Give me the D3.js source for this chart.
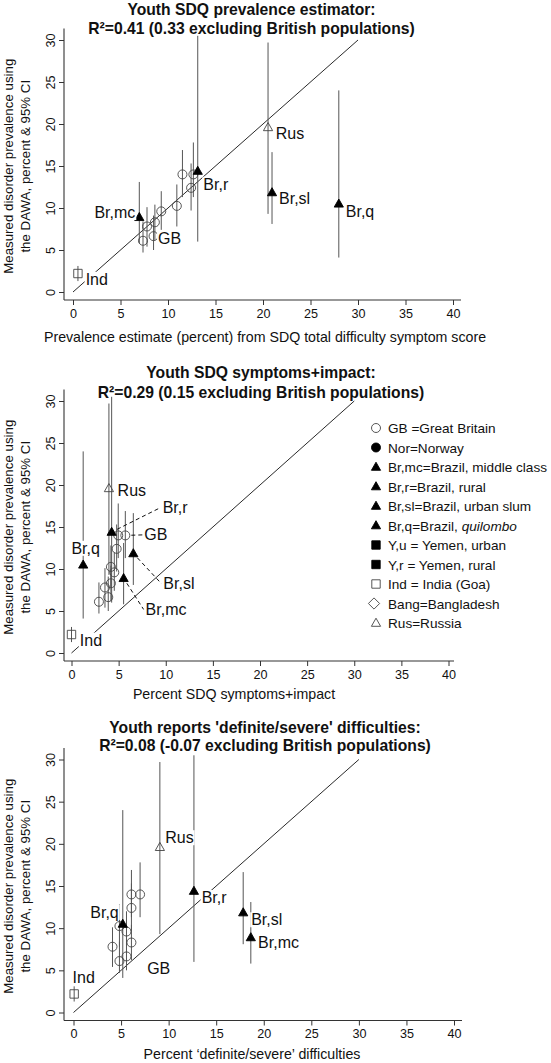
<!DOCTYPE html>
<html><head><meta charset="utf-8">
<script src="https://cdn.jsdelivr.net/npm/d3@7"></script>
<style>
body{margin:0;background:#fff}
svg{display:block}
text{font-family:"Liberation Sans",Arial,Helvetica,sans-serif;fill:#111}
</style>
</head><body>
<svg id="chart" width="551" height="1063"></svg>
<script>
// ---------------- DATA ----------------
const populations = ["GB","GB","GB","GB","GB","GB","GB","GB","GB","Br,mc","Br,r","Br,sl","Br,q","Ind","Rus"];
const dawaPrevalence = [6.1, 7.8, 6.65, 8.3, 9.6, 10.25, 14.0, 12.4, 14.0, 8.9, 14.4, 11.85, 10.5, 2.2, 19.6];
const dawaCILow      = [4.7, 5.4, 5.0, 6.2, 7.4, 7.8, 11.3, 9.7, 11.3, 5.8, 6.0, 8.1, 4.1, 1.3, 9.3];
const dawaCIHigh     = [8.4, 10.1, 9.1, 10.4, 12.0, 12.8, 16.9, 15.3, 17.8, 13.1, 30.5, 16.65, 24.0, 3.1, 29.7];
const sdqPrevalence     = [7.37, 7.79, 8.48, 8.62, 9.29, 10.93, 11.52, 12.43, 12.67, 6.98, 13.13, 20.95, 27.98, 0.52, 20.53];
const sdqSymptomsImpact = [2.91, 3.55, 3.9, 4.18, 4.54, 4.18, 5.71, 4.79, 4.96, 5.53, 4.26, 6.56, 1.24, 0.0, 3.97];
const definiteSevere    = [4.83, 4.1, 5.57, 6.09, 5.57, 4.83, 6.09, 6.09, 7.0, 18.64, 12.66, 17.84, 5.18, 0.07, 9.08];

const xTickValues = [0, 5, 10, 15, 20, 25, 30, 35, 40];
const yTickValues = [0, 5, 10, 15, 20, 25, 30];

const titles1 = ["Youth SDQ prevalence estimator:", "R\u00B2=0.41 (0.33 excluding British populations)"];
const titles2 = ["Youth SDQ symptoms+impact:", "R\u00B2=0.29 (0.15 excluding British populations)"];
const titles3 = ["Youth reports 'definite/severe' difficulties:", "R\u00B2=0.08 (-0.07 excluding British populations)"];
const xTitles = ["Prevalence estimate (percent) from SDQ total difficulty symptom score",
                 "Percent SDQ symptoms+impact",
                 "Percent \u2018definite/severe\u2019 difficulties"];
const yTitleLines = ["Measured disorder prevalence using", "the DAWA, percent & 95% CI"];

const legendSymbols = ["circleOpen","circleFilled","triFilled","triFilled","triFilled","triFilled","squareFilled","squareFilled","squareOpen","diamondOpen","triOpen"];
const legendLabels = ["GB =Great Britain","Nor=Norway","Br,mc=Brazil, middle class","Br,r=Brazil, rural","Br,sl=Brazil, urban slum","Br,q=Brazil, |quilombo","Y,u = Yemen, urban","Y,r = Yemen, rural","Ind = India (Goa)","Bang=Bangladesh","Rus=Russia"];

// ---------------- STYLE / LAYOUT ----------------
const svg = d3.select("#chart");
const symbolOf = code => code === "GB" ? "circleOpen" : code === "Ind" ? "squareOpen" : code === "Rus" ? "triOpen" : "triFilled";
const GRAY = "#555";

function symbolPath(type) {
  if (type.startsWith("circle")) return "M4.5,0A4.5,4.5 0 1,1 -4.5,0A4.5,4.5 0 1,1 4.5,0Z";
  if (type.startsWith("tri")) return "M0,-4.8L4.6,3.3L-4.6,3.3Z";
  if (type.startsWith("square")) return "M-4.2,-4.2H4.2V4.2H-4.2Z";
  if (type.startsWith("diamond")) return "M0,-5.6L5.6,0L0,5.6L-5.6,0Z";
}
function drawSymbol(g, type, cx, cy) {
  const filled = type.endsWith("Filled");
  g.append("path").attr("d", symbolPath(type))
    .attr("transform", `translate(${cx},${cy})`)
    .attr("fill", filled ? "#000" : "none")
    .attr("stroke", filled ? "#000" : "#444")
    .attr("stroke-width", 0.9);
}

const panels = [
  { xs: sdqPrevalence, titles: titles1, xTitle: xTitles[0],
    x0: 73, x40: 453, y0: 292, y30: 40, axisRight: 461,
    titleCx: 251.5, titleY: [15, 34], xTitleCx: 265, xTitleY: 342,
    labels: [
      {i:13, dx:7.7, dy:11.3}, {i:9, dx:-4, dy:0.8, anchor:"end"}, {i:2, dx:4.5, dy:8},
      {i:10, dx:5.6, dy:18.6}, {i:14, dx:7.7, dy:11.7}, {i:11, dx:7, dy:11.3}, {i:12, dx:7, dy:12.7}
    ] },
  { xs: sdqSymptomsImpact, titles: titles2, xTitle: xTitles[1],
    x0: 71.5, x40: 448.5, y0: 653, y30: 401, axisRight: 454,
    titleCx: 261, titleY: [378, 398], xTitleCx: 234, xTitleY: 699,
    labels: [
      {i:13, dx:8.3, dy:11}, {i:12, dx:2.5, dy:-11, anchor:"middle"}, {i:14, dx:8.7, dy:7.4},
      {i:10, dx:51, dy:-19, leader:true}, {i:6, dx:19, dy:5, leader:true},
      {i:11, dx:30, dy:35.6, leader:true}, {i:9, dx:22, dy:36.7, leader:true}
    ],
    legend: true },
  { xs: definiteSevere, titles: titles3, xTitle: xTitles[2],
    x0: 73.5, x40: 454, y0: 1012.5, y30: 759.5, axisRight: 462,
    titleCx: 265, titleY: [732.5, 751], xTitleCx: 252, xTitleY: 1059,
    labels: [
      {i:14, dx:5.3, dy:-4}, {i:10, dx:7.7, dy:12}, {i:12, dx:-4, dy:-6, anchor:"end"},
      {i:11, dx:8, dy:12.7}, {i:9, dx:7.3, dy:11}, {i:0, dx:27.7, dy:12.6}, {i:13, dx:-1.6, dy:-11.3}
    ] }
];

const AXIS_X = 64;

panels.forEach(p => {
  const g = svg.append("g");
  const x = d3.scaleLinear().domain([0, 40]).range([p.x0, p.x40]);
  const y = d3.scaleLinear().domain([0, 30]).range([p.y0, p.y30]);
  const axisY = p.y0 + 8;
  const axisTop = p.y30 - 11.5;

  // titles
  p.titles.forEach((t, k) => {
    g.append("text").attr("x", p.titleCx).attr("y", p.titleY[k])
      .attr("text-anchor", "middle").attr("font-weight", "bold")
      .attr("font-size", "15.7px").text(t);
  });

  // axes
  const xAxis = d3.axisBottom(x).tickValues(xTickValues).tickSize(5).tickPadding(4).tickFormat(d3.format("d"));
  const gx = g.append("g").attr("transform", `translate(0,${axisY})`).call(xAxis);
  gx.select(".domain").remove();
  gx.selectAll(".tick line").attr("stroke", "#333");
  gx.selectAll(".tick text").attr("font-size", "12.6px").attr("fill", "#111")
    .attr("font-family", '"Liberation Sans",Arial,sans-serif').attr("dy", "0.71em");
  g.append("line").attr("x1", AXIS_X).attr("x2", p.axisRight).attr("y1", axisY).attr("y2", axisY)
    .attr("stroke", "#333").attr("stroke-width", 1.1);

  const yAxis = d3.axisLeft(y).tickValues(yTickValues).tickSize(5).tickFormat(d3.format("d"));
  const gy = g.append("g").attr("transform", `translate(${AXIS_X},0)`).call(yAxis);
  gy.select(".domain").remove();
  gy.selectAll(".tick line").attr("stroke", "#333");
  gy.selectAll(".tick text")
    .attr("font-size", "12.6px").attr("fill", "#111")
    .attr("font-family", '"Liberation Sans",Arial,sans-serif')
    .attr("text-anchor", "middle").attr("x", 0).attr("y", -9).attr("dy", 0)
    .attr("transform", "rotate(-90)");
  g.append("line").attr("x1", AXIS_X).attr("x2", AXIS_X).attr("y1", axisTop).attr("y2", axisY)
    .attr("stroke", "#333").attr("stroke-width", 1.1);

  // axis titles
  g.append("text").attr("x", p.xTitleCx).attr("y", p.xTitleY).attr("text-anchor", "middle")
    .attr("font-size", "14.2px").text(p.xTitle);
  const yMid = (axisTop + axisY) / 2 + 2;
  yTitleLines.forEach((t, k) => {
    g.append("text").attr("transform", `translate(${k === 0 ? 12.5 : 30},${yMid}) rotate(-90)`)
      .attr("text-anchor", "middle").attr("font-size", "13.3px").text(t);
  });

  // 45-degree reference line (y = x)
  g.append("line").attr("x1", x(0)).attr("y1", y(0)).attr("x2", x(30)).attr("y2", y(30))
    .attr("stroke", "#111").attr("stroke-width", 0.9);

  // error bars
  populations.forEach((c, i) => {
    g.append("line").attr("x1", x(p.xs[i])).attr("x2", x(p.xs[i]))
      .attr("y1", y(dawaCILow[i])).attr("y2", y(dawaCIHigh[i]))
      .attr("stroke", GRAY).attr("stroke-width", 1);
  });
  // markers
  populations.forEach((c, i) => drawSymbol(g, symbolOf(c), x(p.xs[i]), y(dawaPrevalence[i])));

  // labels
  p.labels.forEach(l => {
    const mx = x(p.xs[l.i]), my = y(dawaPrevalence[l.i]);
    const lx = mx + l.dx, ly = my + l.dy;
    if (l.leader) {
      const ex = lx - 2, ey = ly - 5.5;
      const len = Math.hypot(ex - mx, ey - my);
      const sx = mx + (ex - mx) * 6 / len, sy = my + (ey - my) * 6 / len;
      g.append("line").attr("x1", sx).attr("y1", sy).attr("x2", ex).attr("y2", ey)
        .attr("stroke", "#111").attr("stroke-width", 1).attr("stroke-dasharray", "4,3");
    }
    const lg = g.append("g");
    const rect = lg.append("rect").attr("fill", "#fff");
    const t = lg.append("text").attr("x", lx).attr("y", ly)
      .attr("text-anchor", l.anchor || "start").attr("font-size", "16px").text(populations[l.i]);
    const bb = t.node().getBBox();
    rect.attr("x", bb.x - 1).attr("y", bb.y + 1).attr("width", bb.width + 2).attr("height", bb.height - 2);
  });

  // legend
  if (p.legend) {
    legendLabels.forEach((lab, k) => {
      const cy = 428 + k * 19.5;
      drawSymbol(g, legendSymbols[k], legendSymbols[k] === "diamondOpen" ? 374 : 376, cy);
      const parts = lab.split("|");
      const t = g.append("text").attr("x", 388).attr("y", cy + 5).attr("font-size", "13.6px");
      t.append("tspan").text(parts[0]);
      if (parts[1]) t.append("tspan").attr("font-style", "italic").text(parts[1]);
    });
  }
});
</script>
</body></html>
